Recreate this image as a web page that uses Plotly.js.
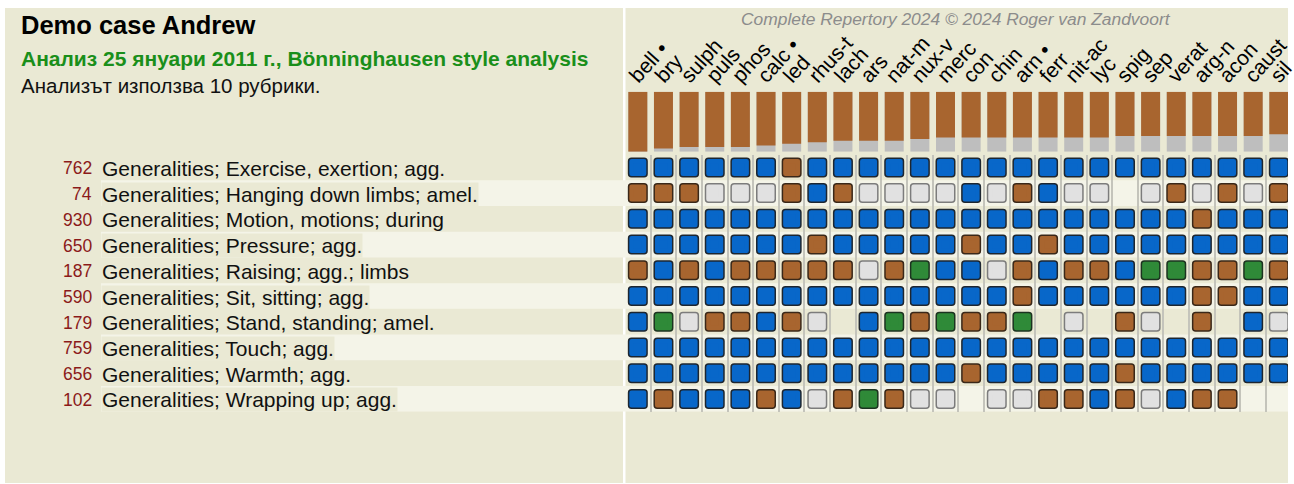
<!DOCTYPE html>
<html>
<head>
<meta charset="utf-8">
<script src="https://cdn.plot.ly/plotly-3.0.1.min.js"></script>
<style>
html,body{margin:0;padding:0;background:#fff;}
#chart{width:1294px;height:484px;}
.scatterlayer .point{stroke-linejoin:round;}
</style>
</head>
<body>
<div id="chart"></div>
<script>
// ---- data ----
const remedies = ['bell','bry','sulph','puls','phos','calc','led','rhus-t','lach','ars','nat-m','nux-v','merc','con','chin','arn','ferr','nit-ac','lyc','spig','sep','verat','arg-n','acon','caust','sil'];
const markedRemedies = ['bell','calc','arn'];
const scores = [38,36,35,35,35,34,33,32,31,31,31,30,29,29,29,29,29,29,29,28,28,28,28,28,28,27];
const rubricCounts = [762,74,930,650,187,590,179,759,656,102];
const rubrics = [
  'Generalities; Exercise, exertion; agg.',
  'Generalities; Hanging down limbs; amel.',
  'Generalities; Motion, motions; during',
  'Generalities; Pressure; agg.',
  'Generalities; Raising; agg.; limbs',
  'Generalities; Sit, sitting; agg.',
  'Generalities; Stand, standing; amel.',
  'Generalities; Touch; agg.',
  'Generalities; Warmth; agg.',
  'Generalities; Wrapping up; agg.'
];
// grade codes per rubric, one letter per remedy: b=blue, r=brown, g=green, w=light, -=absent
const gradesExercise = 'bbbbbbrbbbbbbbbbbbbbbbbbbb';
const gradesHanging  = 'rrrwwwrbrwwwwbwrbww-wrwrwr';
const gradesMotion   = 'bbbbbbbbbbbbbbbbbbbbbbrbbb';
const gradesPressure = 'bbbbbbbrbbbbbrbbrbbbbbbbbb';
const gradesRaising  = 'rbrbrrrrrwrgbbwrbrrbggrrgr';
const gradesSit      = 'bbbbbbbbbbbbbbbrbbbbbbrrbb';
const gradesStand    = 'bgwrrbrw-bgrgrrg-w-rw-r-bw';
const gradesTouch    = 'bbbbbbbbbbbbbbbbbbbbbbbbbb';
const gradesWarmth   = 'bbbbbbbbbbbbbrbbbbbrbbbbbb';
const gradesWrapping = 'brbbbrbwrgrww-wwrrbrwbrr--';
const gradeRows = [gradesExercise,gradesHanging,gradesMotion,gradesPressure,gradesRaising,gradesSit,gradesStand,gradesTouch,gradesWarmth,gradesWrapping];

const titleText = 'Demo case Andrew';
const subtitleText = 'Анализ 25 януари 2011 г., Bönninghausen style analysis';
const infoText = 'Анализът използва 10 рубрики.';
const copyrightText = 'Complete Repertory 2024 © 2024 Roger van Zandvoort';

// ---- styling ----
const W = 1294, H = 484;
const px = x => x / W;
const py = y => 1 - y / H;
const FONT = 'Liberation Sans, Arial, sans-serif';
const BEIGE = '#eae9d4', BAND = '#f4f4e8';
const fillColor = {b:'#0867c9', r:'#a8652f', g:'#2f8a38', w:'#e1e1e1'};
const edgeColor = {b:'#1d2630', r:'#3a2819', g:'#1c3320', w:'#7c7c7c'};

const idx = remedies.map((_, i) => i);
const labels = remedies.map(r => markedRemedies.includes(r) ? r + ' •' : r);
const maxScore = Math.max(...scores);

// cells
const cx = [], cy = [], cFill = [], cEdge = [];
gradeRows.forEach((row, j) => {
  row.split('').forEach((g, i) => {
    if (g === '-') return;
    cx.push(i); cy.push(j); cFill.push(fillColor[g]); cEdge.push(edgeColor[g]);
  });
});

const traces = [
  {type:'bar', x: idx, y: scores.map(() => maxScore), xaxis:'x2', yaxis:'y2',
   marker:{color:'#bebebe', line:{width:0}}, width:0.74, hoverinfo:'skip'},
  {type:'bar', x: idx, y: scores, xaxis:'x2', yaxis:'y2',
   marker:{color:'#a8652f', line:{width:0}}, width:0.74, hoverinfo:'skip'},
  {type:'scatter', mode:'markers', x: cx, y: cy, xaxis:'x', yaxis:'y',
   marker:{symbol:'square', size:12.5, color:cEdge, line:{color:cEdge, width:7.5}}, hoverinfo:'skip'},
  {type:'scatter', mode:'markers', x: cx, y: cy, xaxis:'x', yaxis:'y',
   marker:{symbol:'square', size:12.5, color:cFill, line:{color:cFill, width:4.5}}, hoverinfo:'skip'}
];

const xRange = [-0.5, -0.5 + (1288 - 625) / 25.64];
const shapes = [
  {type:'rect', xref:'paper', yref:'paper', x0:px(5), x1:px(623), y0:py(483), y1:py(8), fillcolor:BEIGE, line:{width:0}, layer:'below'},
  {type:'rect', xref:'paper', yref:'paper', x0:px(625.5), x1:px(1288), y0:py(483), y1:py(8), fillcolor:BEIGE, line:{width:0}, layer:'below'}
];
rubrics.forEach((_, j) => {
  if (j % 2 === 1) {
    shapes.push({type:'rect', xref:'paper', yref:'y', x0:px(101), x1:px(1288), y0:j-0.5, y1:j+0.5, fillcolor:BAND, line:{width:0}, layer:'below'});
  }
});

const annotations = [
  {xref:'paper', yref:'paper', x:px(19), y:py(25), xanchor:'left', yanchor:'middle', showarrow:false,
   text:'<b>' + titleText + '</b>', font:{family:FONT, size:25.5, color:'#000'}},
  {xref:'paper', yref:'paper', x:px(19), y:py(58), xanchor:'left', yanchor:'middle', showarrow:false,
   text:'<b>' + subtitleText + '</b>', font:{family:FONT, size:21, color:'#1a8f1a'}},
  {xref:'paper', yref:'paper', x:px(19), y:py(85), xanchor:'left', yanchor:'middle', showarrow:false,
   text: infoText, font:{family:FONT, size:20.5, color:'#111'}},
  {xref:'paper', yref:'paper', x:px(956), y:py(19), xanchor:'center', yanchor:'middle', showarrow:false,
   text:'<i>' + copyrightText + '</i>', font:{family:FONT, size:17.4, color:'#8c8c8c'}}
];
rubrics.forEach((r, j) => {
  annotations.push({xref:'paper', yref:'y', x:px(93), y:j, yshift:-1, xanchor:'right', yanchor:'middle', showarrow:false,
    text: String(rubricCounts[j]), borderpad:0, font:{family:FONT, size:17.5, color:'#8b1a1a'}});
  annotations.push({xref:'paper', yref:'y', x:px(101), y:j, yshift:-1, xanchor:'left', yanchor:'middle', showarrow:false,
    text: r, font:{family:FONT, size:21, color:'#111'}, borderpad:0,
    bgcolor: j % 2 === 1 ? BEIGE : 'rgba(0,0,0,0)'});
});

const layout = {
  width: W, height: H,
  margin:{l:0, r:0, t:0, b:0, pad:0},
  paper_bgcolor:'#ffffff', plot_bgcolor:'rgba(0,0,0,0)',
  showlegend:false, barmode:'overlay',
  font:{family:FONT},
  xaxis:{domain:[px(625), px(1288)], range:xRange, anchor:'y', tickmode:'linear', tick0:0.5, dtick:1,
         showgrid:true, gridcolor:'#c4c4bb', gridwidth:2, showticklabels:false, zeroline:false, ticks:'', showline:false},
  yaxis:{domain:[py(411.74), py(154.54)], range:[9.5, -0.5], anchor:'x', showgrid:false, showticklabels:false, zeroline:false, ticks:''},
  xaxis2:{domain:[px(625), px(1288)], range:xRange, anchor:'y2', side:'top', tickmode:'array', tickvals:idx, ticktext:labels,
          tickangle:-48, ticks:'', showgrid:false, zeroline:false, showline:false, automargin:false,
          ticklabelshift:-7, ticklabelstandoff:-1, ticklabeloverflow:'allow',
          tickfont:{family:FONT, size:21, color:'#000'}},
  yaxis2:{domain:[py(151.7), py(91.7)], range:[maxScore, 0], anchor:'x2', showgrid:false, showticklabels:false, zeroline:false, ticks:''},
  shapes: shapes,
  annotations: annotations
};

Plotly.newPlot('chart', traces, layout, {staticPlot:true, displayModeBar:false});
</script>
</body>
</html>
